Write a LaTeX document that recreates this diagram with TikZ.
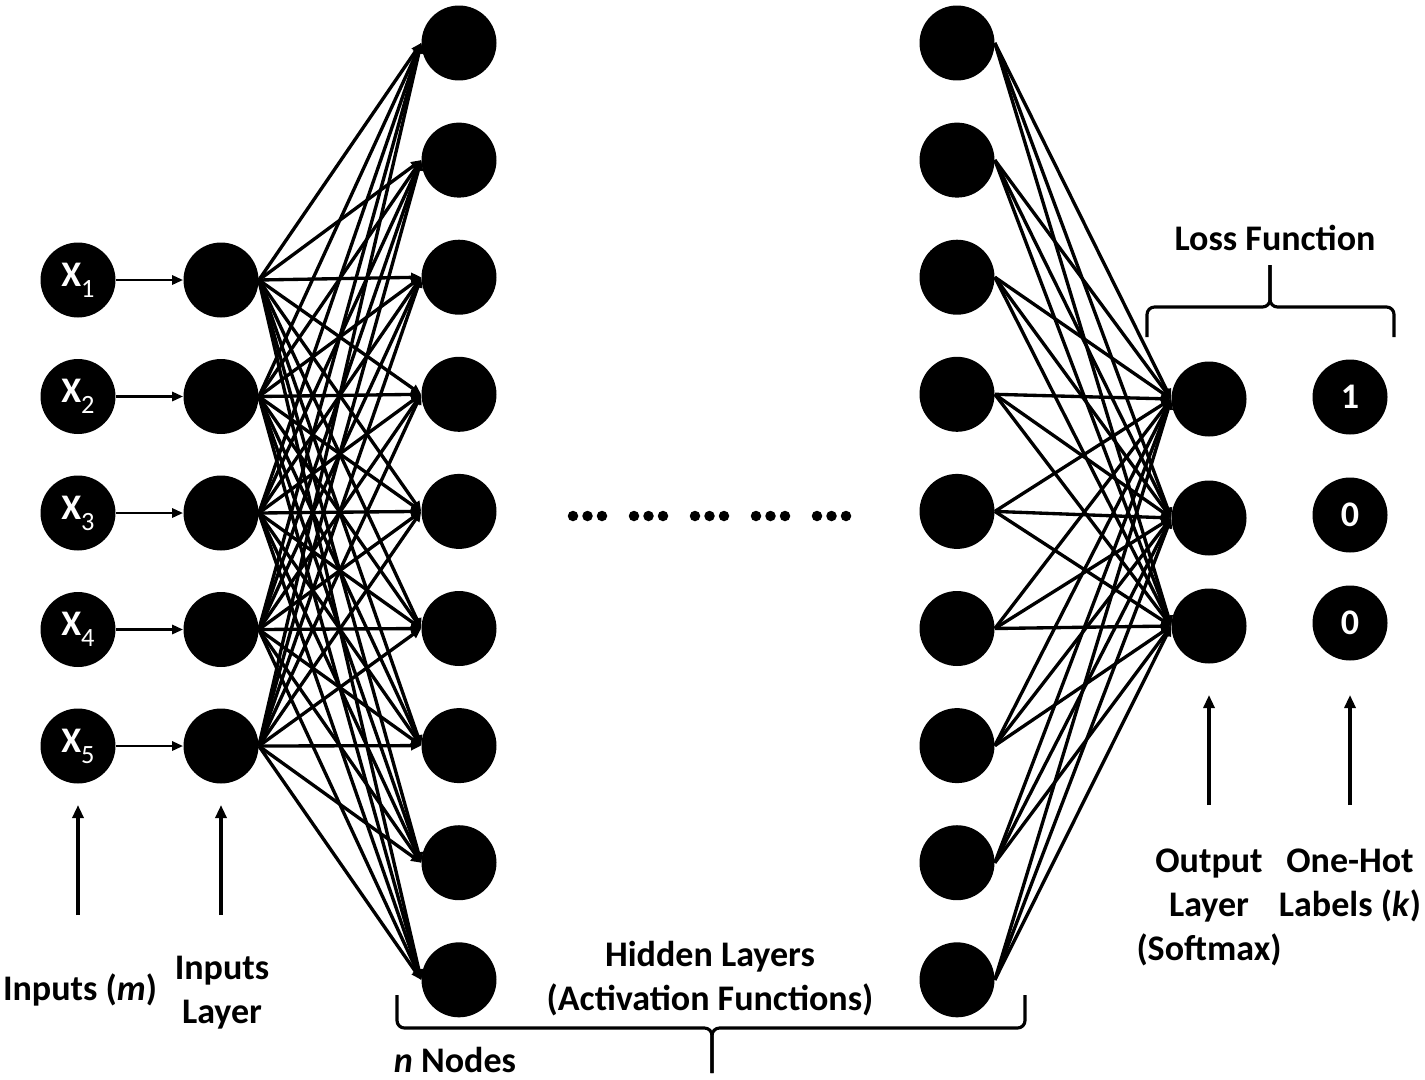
\documentclass[tikz,border=0pt]{standalone}
\usepackage{fontspec}
\setmainfont{Carlito}
\usetikzlibrary{calc, arrows.meta}

\newcommand{\xin}[1]{\textbf{X}\raisebox{-0.3em}{\fontsize{15}{15}\selectfont #1}}

\begin{document}
\begin{tikzpicture}[x=0.02cm, y=-0.02cm]
    \tikzstyle{neuron} = [circle, fill=black, minimum size=1.5cm, inner sep=0pt,
        text=white, font=\fontsize{20.5}{25}\selectfont]
    \tikzstyle{caption} = [font=\bfseries\fontsize{20.5}{25}\selectfont, align=center,
        inner sep=0pt]
    \tikzstyle{weight} = [line width=1.9pt, -{Triangle[length=0.2cm, width=0.18cm]}]
    \tikzstyle{feed} = [line width=1.6pt, -{Triangle[length=0.22cm, width=0.18cm]}]
    \tikzstyle{pointer} = [line width=1.8pt, -{Triangle[length=0.26cm, width=0.22cm]}]
    \tikzstyle{brace} = [line width=1.8pt, rounded corners=0.15cm]

    \useasboundingbox (0, 0) rectangle (1425, 1079);

    % Inputs --------------------------------------------
    \node (X1) at (78, 280) [neuron] {\xin{1}};
    \node (X2) at ($(X1) + (0, 116.5)$) [neuron] {\xin{2}};
    \node (X3) at ($(X2) + (0, 116.5)$) [neuron] {\xin{3}};
    \node (X4) at ($(X3) + (0, 116.5)$) [neuron] {\xin{4}};
    \node (X5) at ($(X4) + (0, 116.5)$) [neuron] {\xin{5}};

    % Inputs layer
    \node (I1) at ($(X1) + (143, 0)$) [neuron] {};
    \node (I2) at ($(I1) + (0, 116.5)$) [neuron] {};
    \node (I3) at ($(I2) + (0, 116.5)$) [neuron] {};
    \node (I4) at ($(I3) + (0, 116.5)$) [neuron] {};
    \node (I5) at ($(I4) + (0, 116.5)$) [neuron] {};
    % ---------------------------------------------------

    % Hidden layers -------------------------------------
    \node (H1) at (459, 43) [neuron] {};
    \node (H2) at ($(H1) + (0, 117.1)$) [neuron] {};
    \node (H3) at ($(H2) + (0, 117.1)$) [neuron] {};
    \node (H4) at ($(H3) + (0, 117.1)$) [neuron] {};
    \node (H5) at ($(H4) + (0, 117.1)$) [neuron] {};
    \node (H6) at ($(H5) + (0, 117.1)$) [neuron] {};
    \node (H7) at ($(H6) + (0, 117.1)$) [neuron] {};
    \node (H8) at ($(H7) + (0, 117.1)$) [neuron] {};
    \node (H9) at ($(H8) + (0, 117.1)$) [neuron] {};

    \node (G1) at ($(H1) + (498, 0)$) [neuron] {};
    \node (G2) at ($(G1) + (0, 117.1)$) [neuron] {};
    \node (G3) at ($(G2) + (0, 117.1)$) [neuron] {};
    \node (G4) at ($(G3) + (0, 117.1)$) [neuron] {};
    \node (G5) at ($(G4) + (0, 117.1)$) [neuron] {};
    \node (G6) at ($(G5) + (0, 117.1)$) [neuron] {};
    \node (G7) at ($(G6) + (0, 117.1)$) [neuron] {};
    \node (G8) at ($(G7) + (0, 117.1)$) [neuron] {};
    \node (G9) at ($(G8) + (0, 117.1)$) [neuron] {};

    \foreach \g in {0,...,4}
        \foreach \d in {0,1,2}
            \fill (573 + 61*\g + 14.5*\d, 516) circle (0.105cm);
    % ---------------------------------------------------

    % Output and labels
    \node (O1) at (1209, 399) [neuron] {};
    \node (O2) at ($(O1) + (0, 119)$) [neuron] {};
    \node (O3) at ($(O2) + (0, 108)$) [neuron] {};

    \node (L1) at ($(O1) + (141, -2)$) [neuron] {\textbf{1}};
    \node (L2) at ($(L1) + (0, 118)$) [neuron] {\textbf{0}};
    \node (L3) at ($(L2) + (0, 108)$) [neuron] {\textbf{0}};

    % Connections ---------------------------------------
    \foreach \i in {1,...,5}
        \draw [feed] (X\i) -- (I\i);
    \foreach \i in {1,...,5}
        \foreach \j in {1,...,9}
            \draw [weight] (I\i.east) -- (H\j.west);
    \foreach \i in {1,...,9}
        \foreach \j in {1,2,3}
            \draw [weight] (G\i.east) -- (O\j.west);

    % Captions ------------------------------------------
    \node (inputs) at (80, 990) [caption] {Inputs (\textit{m})};
    \node (inputs_layer) at (222, 993) [caption] {Inputs\\Layer};
    \node (hidden) at (710, 979) [caption] {Hidden Layers\\(Activation Functions)};
    \node (n_nodes) at (455, 1060) [caption] {\textit{n} Nodes};
    \node (output) at (1209, 907) [caption] {Output\\Layer\\(Softmax)};
    \node (one_hot) at (1350, 885) [caption] {One-Hot\\Labels (\textit{k})};
    \node (loss) at (1275, 238) [caption] {Loss Function};

    \coordinate (inputs_tail) at (78, 915);
    \coordinate (inputs_tip) at (78, 805);
    \coordinate (layer_tail) at (221, 915);
    \coordinate (layer_tip) at (221, 805);
    \coordinate (output_tail) at (1209, 805);
    \coordinate (output_tip) at (1209, 695);
    \coordinate (one_hot_tail) at (1350, 805);
    \coordinate (one_hot_tip) at (1350, 695);

    \draw [pointer] (inputs_tail) -- (inputs_tip);
    \draw [pointer] (layer_tail) -- (layer_tip);
    \draw [pointer] (output_tail) -- (output_tip);
    \draw [pointer] (one_hot_tail) -- (one_hot_tip);

    % Braces
    \draw [brace] (397, 995) -- (397, 1028) -- (712, 1028) -- (712, 1073);
    \draw [brace] (1025, 995) -- (1025, 1028) -- (712, 1028) -- (712, 1073);
    \draw [brace] (1147, 337) -- (1147, 307) -- (1270, 307) -- (1270, 265);
    \draw [brace] (1394, 337) -- (1394, 307) -- (1270, 307) -- (1270, 265);
\end{tikzpicture}
\end{document}
